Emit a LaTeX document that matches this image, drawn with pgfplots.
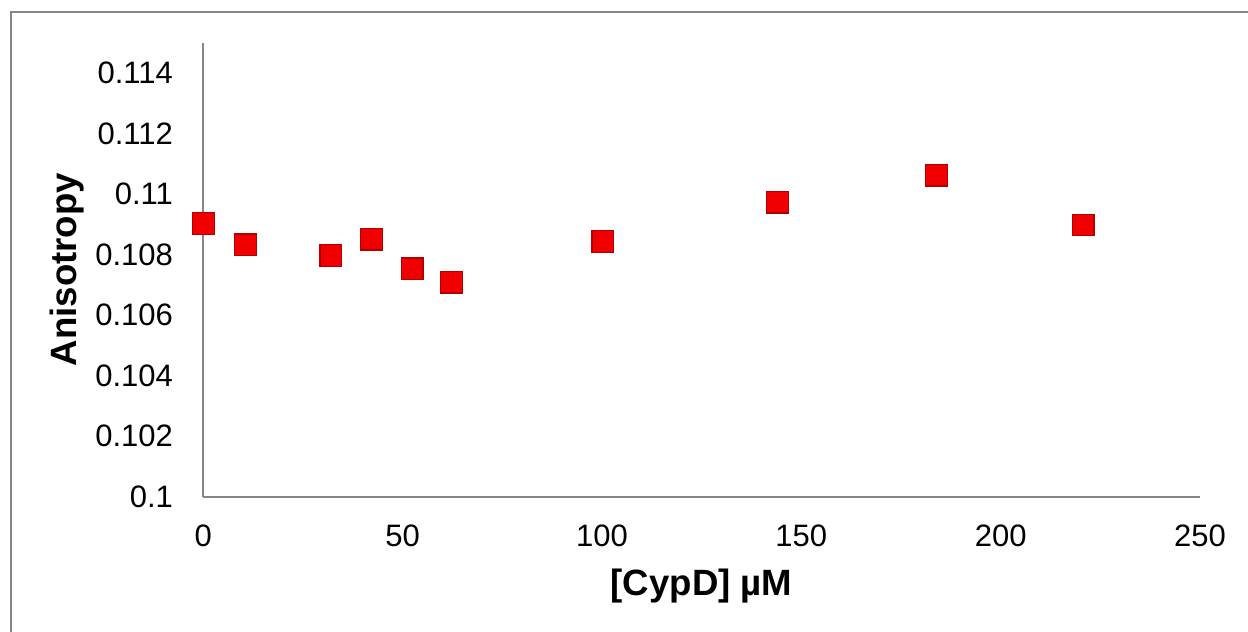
\documentclass[border=0pt]{standalone}
\usepackage{pgfplots}
\pgfplotsset{compat=1.18}
\usepackage{fontspec}
\setmainfont{Liberation Sans}
\definecolor{axgray}{HTML}{868686}
\definecolor{mkred}{HTML}{F00000}
\definecolor{mkedge}{HTML}{B00000}
\begin{document}
\begin{tikzpicture}
\useasboundingbox (0,0) rectangle (624pt,316pt);
\draw[axgray, line width=0.6pt] (5.5pt,-2pt) -- (5.5pt,310pt) -- (626pt,310pt);
\begin{axis}[
  at={(101.65pt,67.65pt)}, anchor=south west,
  scale only axis, width=498.35pt, height=227pt,
  xmin=0, xmax=250, ymin=0.1, ymax=0.115,
  axis x line=bottom, axis y line=left,
  axis line style={axgray, line width=1pt, -},
  xtick={0,50,...,250},
  ytick={0.1,0.102,0.104,0.106,0.108,0.11,0.112,0.114},
  yticklabels={0.1,0.102,0.104,0.106,0.108,0.11,0.112,0.114},
  major tick length=0pt,
  clip=false,
  /pgf/number format/assume math mode=true,
  tick label style={font=\fontsize{15.5}{18}\selectfont, inner sep=0pt},
  xticklabel style={anchor=center, yshift=-19.5pt},
  yticklabel style={anchor=east, xshift=-15pt},
  xlabel={[CypD] µM},
  ylabel={Anisotropy},
  label style={font=\fontsize{18.3}{22}\selectfont\bfseries},
  xlabel style={at={(axis description cs:0.5,0)}, anchor=center, yshift=-44.5pt},
  ylabel style={at={(axis description cs:0,0.5)}, anchor=center, rotate=0, yshift=68pt},
]
\addplot[only marks, mark=square*, mark size=5.4pt,
  mark options={fill=mkred, draw=mkedge, line width=0.6pt}]
  coordinates {
  (0,0.10902)
  (10.6,0.10832)
  (32,0.10797)
  (42.2,0.10851)
  (52.4,0.10753)
  (62.3,0.10709)
  (100.2,0.10843)
  (144,0.10973)
  (183.9,0.11062)
  (220.7,0.10898)
  };
\end{axis}
\end{tikzpicture}
\end{document}
